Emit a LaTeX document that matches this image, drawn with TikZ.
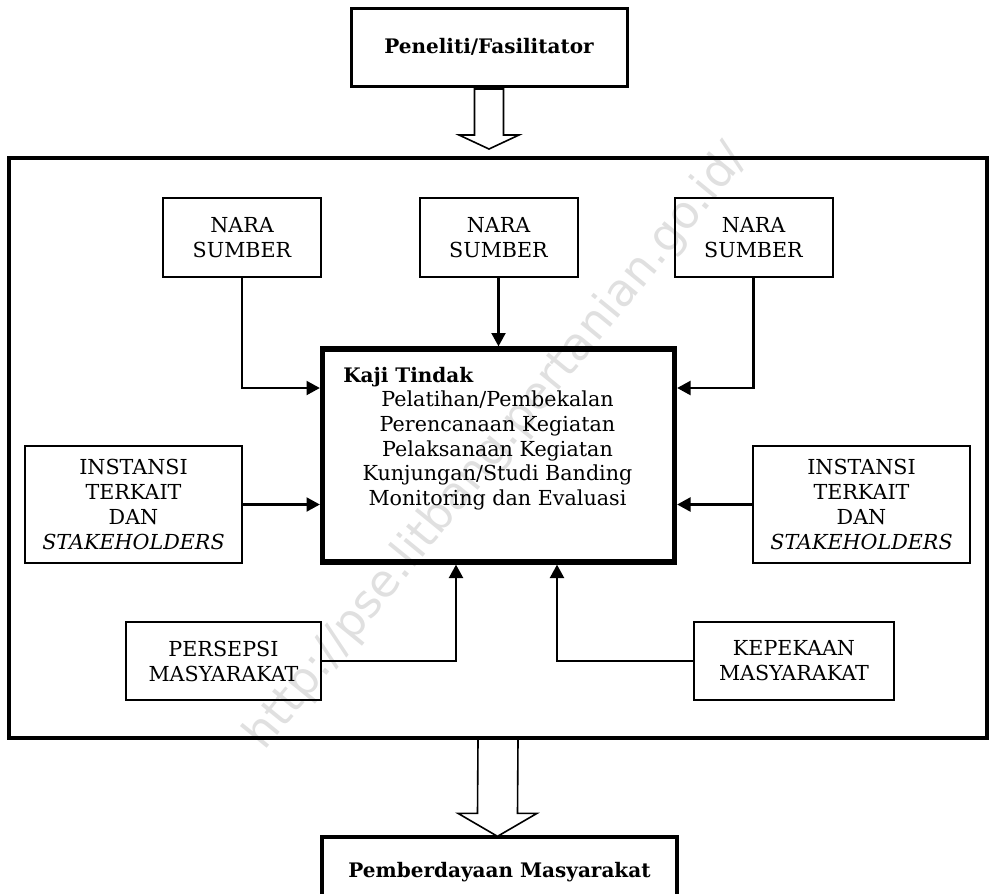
\documentclass[tikz,border=0pt]{standalone}
\usepackage{fontspec}
\setmainfont{DejaVu Serif}
\newfontfamily\wmfont{DejaVu Sans}
\usetikzlibrary{arrows.meta,calc}
\begin{document}
\begin{tikzpicture}[x=0.75pt,y=-0.75pt,
  txt/.style={font=\fontsize{15.5}{18.75}\selectfont},
  bold/.style={font=\bfseries\fontsize{15}{17}\selectfont},
  smallbox/.style={draw,line width=1.5pt,rectangle,align=center,inner sep=0pt,txt},
  conn/.style={line width=1.6pt,-{Triangle[length=10pt,width=10.5pt]}},
  hollow/.style={draw,line width=1.2pt,fill=white,line join=miter},
  wmark/.style={text=black!12,font=\wmfont\fontsize{34}{34}\selectfont}]
\useasboundingbox (0,0) rectangle (992,893);
\clip (0,0) rectangle (992,893);

% watermark
\node[wmark,rotate=50.8] (wm) at (497,447) {http://pse.litbang.pertanian.go.id/};

% top box
\node[draw,line width=2.25pt,minimum width=207pt,minimum height=58.5pt,inner sep=0pt,bold] (pen) at (489,47) {Peneliti/Fasilitator};

% outer frame
\node[draw,line width=3pt,minimum width=733.5pt,minimum height=435pt,inner sep=0pt] (outer) at (498,448) {};

% central box
\node[draw,line width=4pt,minimum width=264pt,minimum height=159.75pt,inner sep=0pt] (kaji) at (498.5,455.5) {};
\node[bold,anchor=base west,inner sep=0pt] (kt) at (343,382) {Kaji Tindak};
\node[txt,anchor=base,inner sep=0pt] (l1) at (497.5,406) {Pelatihan/Pembekalan};
\node[txt,anchor=base,inner sep=0pt] (l2) at (497.5,431) {Perencanaan Kegiatan};
\node[txt,anchor=base,inner sep=0pt] (l3) at (497.5,456) {Pelaksanaan Kegiatan};
\node[txt,anchor=base,inner sep=0pt] (l4) at (497.5,480.5) {Kunjungan/Studi Banding};
\node[txt,anchor=base,inner sep=0pt] (l5) at (497.5,505) {Monitoring dan Evaluasi};

% surrounding boxes
\node[smallbox,minimum width=118.5pt,minimum height=59.25pt] (naraL) at (242,237.5) {NARA\\SUMBER};
\node[smallbox,minimum width=118.5pt,minimum height=59.25pt] (naraM) at (498.5,237.5) {NARA\\SUMBER};
\node[smallbox,minimum width=118.5pt,minimum height=59.25pt] (naraR) at (753.5,237.5) {NARA\\SUMBER};
\node[smallbox,minimum width=162.75pt,minimum height=87.75pt] (instL) at (133.5,504.5) {INSTANSI\\TERKAIT\\DAN\\\textit{STAKEHOLDERS}};
\node[smallbox,minimum width=162.75pt,minimum height=87.75pt] (instR) at (861.5,504.5) {INSTANSI\\TERKAIT\\DAN\\\textit{STAKEHOLDERS}};
\node[smallbox,minimum width=146.25pt,minimum height=58.5pt] (pers) at (223.5,661) {PERSEPSI\\MASYARAKAT};
\node[smallbox,minimum width=150pt,minimum height=58.5pt] (kep) at (794,661) {KEPEKAAN\\MASYARAKAT};

% bottom box
\node[draw,line width=2.5pt,minimum width=266.25pt,minimum height=52.5pt,inner sep=0pt,bold] (pemb) at (499.5,872) {Pemberdayaan Masyarakat};

% connectors
\coordinate (yNara) at (0,388);
\coordinate (xPers) at (456,0);
\coordinate (xKep) at (557,0);
\draw[conn] (naraL.south) |- (kaji.west |- yNara);
\draw[conn] (naraR.south) |- (kaji.east |- yNara);
\draw[conn] (naraM.south) -- (naraM.south |- kaji.north);
\draw[conn] (instL.east) -- (kaji.west |- instL.east);
\draw[conn] (instR.west) -- (kaji.east |- instR.west);
\draw[conn] (pers.east) -| (xPers |- kaji.south);
\draw[conn] (kep.west) -| (xKep |- kaji.south);

% hollow block arrows
\coordinate (ps) at (pen.south);
\draw[hollow] ($(ps)+(-14.5,1.5)$) -- ($(ps)+(-14.5,47.5)$) -- ($(ps)+(-30,47.5)$) -- ($(ps)+(0,61.5)$) -- ($(ps)+(30,47.5)$) -- ($(ps)+(14.5,47.5)$) -- ($(ps)+(14.5,1.5)$) -- cycle;
\coordinate (pt) at ($(pemb.north)+(-2,1)$);
\coordinate (os) at (outer.south);
\draw[hollow] ($(os)+(-20,0)$) -- ($(pt)+(-20,-23)$) -- ($(pt)+(-39.5,-23)$) -- (pt) -- ($(pt)+(39.5,-23)$) -- ($(pt)+(20,-23)$) -- ($(os)+(20,0)$);
\end{tikzpicture}
\end{document}
